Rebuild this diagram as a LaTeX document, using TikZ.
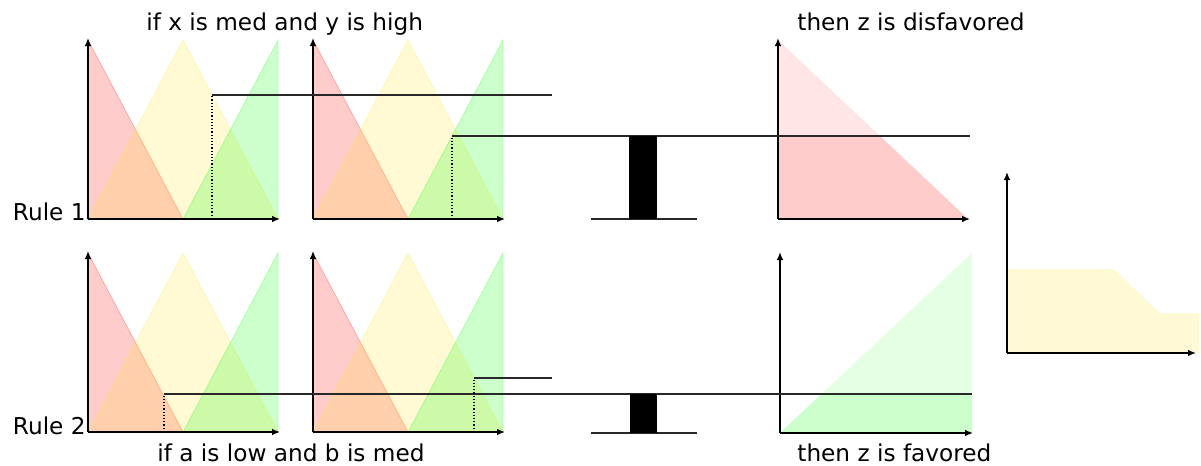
\documentclass[tikz,border=0pt]{standalone}
\usepackage{fontspec}
\setmainfont{DejaVu Sans}
\usetikzlibrary{arrows.meta}

\definecolor{mfred}{RGB}{255,0,0}
\definecolor{mfyellow}{RGB}{255,228,40}
\definecolor{mfgreen}{RGB}{0,255,0}
\definecolor{aggfill}{RGB}{255,249,214}
\definecolor{cutline}{RGB}{40,40,40}

\tikzset{
  axis/.style={line width=0.75pt, -{Latex[length=4pt,width=3.4pt]}},
  setred/.style={fill=mfred, fill opacity=0.2, draw=mfred, draw opacity=0.25, line width=0.4pt},
  setyellow/.style={fill=mfyellow, fill opacity=0.2, draw=mfyellow, draw opacity=0.25, line width=0.4pt},
  setgreen/.style={fill=mfgreen, fill opacity=0.2, draw=mfgreen, draw opacity=0.25, line width=0.4pt},
  cut/.style={draw=cutline, line width=0.6pt},
  drop/.style={draw=black, line width=0.6pt, densely dotted},
  bar/.style={fill=black},
  caption/.style={inner sep=0pt, font=\fontsize{11.6}{14}\selectfont},
}

% membership functions low / med / high on one input axis
\newcommand\mfaxis[1]{%
  \begin{scope}[shift={(#1)}]
    \path[setred]    (0,0) -- (0,-179) -- (95,0) -- cycle;
    \path[setyellow] (0,0) -- (95,-179) -- (190,0) -- cycle;
    \path[setgreen]  (95,0) -- (190,-179) -- (190,0) -- cycle;
    \draw[axis] (0,0) -- (0,-181);
    \draw[axis] (0,0) -- (192,0);
  \end{scope}}

\begin{document}
\begin{tikzpicture}[x=0.5pt,y=-0.5pt]
\useasboundingbox (0,0) rectangle (1201,466);

% ---------- input membership functions ----------
\mfaxis{88,219}
\mfaxis{313,219}
\mfaxis{88,432}
\mfaxis{313,432}

% ---------- rule 1 consequent: disfavored ----------
\fill[red!10] (778,40) -- (968,219) -- (778,219) -- cycle;
\begin{scope}
  \clip (770,136) rectangle (980,220);
  \fill[red!20] (778,40) -- (968,219) -- (778,219) -- cycle;
\end{scope}
\draw[axis] (778,219) -- (778,38);
\draw[axis] (778,219) -- (970,219);

% ---------- rule 2 consequent: favored ----------
\fill[green!10] (780,433) -- (972,253) -- (972,433) -- cycle;
\begin{scope}
  \clip (770,394) rectangle (980,434);
  \fill[green!20] (780,433) -- (972,253) -- (972,433) -- cycle;
\end{scope}
\draw[axis] (780,433) -- (780,252);
\draw[axis] (780,433) -- (973,433);

% ---------- aggregated output ----------
\fill[aggfill] (1007,353) -- (1007,269) -- (1114,269) -- (1160,313) -- (1199,313) -- (1199,353) -- cycle;
\draw[axis] (1007,353) -- (1007,172);
\draw[axis] (1007,353) -- (1196,353);

% ---------- rule 1 firing levels ----------
\coordinate (x1) at (212,95);
\coordinate (y1) at (452,136);
\draw[drop] (212,219) -- (x1);
\draw[cut]  (x1) -- (552,95);
\draw[drop] (452,219) -- (y1);
\draw[cut]  (y1) -- (970,136);

% min operator, rule 1
\draw[cut] (591,219) -- (697,219);
\fill[bar] (629,136) rectangle (657,219);

% ---------- rule 2 firing levels ----------
\coordinate (a2) at (164,394);
\coordinate (b2) at (474,378);
\draw[drop] (164,432) -- (a2);
\draw[cut]  (a2) -- (972,394);
\draw[drop] (474,432) -- (b2);
\draw[cut]  (b2) -- (552,378);

% min operator, rule 2
\draw[cut] (591,433) -- (697,433);
\fill[bar] (630,394) rectangle (657,433);

% ---------- labels ----------
\node[caption, anchor=base west] (ant1) at (146,31) {if x is med and y is high};
\node[caption, anchor=base west] (con1) at (797,31) {then z is disfavored};
\node[caption, anchor=base west] (ant2) at (157,461) {if a is low and b is med};
\node[caption, anchor=base west] (con2) at (797,461) {then z is favored};
\node[caption, anchor=base east] (rule1) at (86,220) {Rule 1};
\node[caption, anchor=base east] (rule2) at (86,434) {Rule 2};
\end{tikzpicture}
\end{document}
